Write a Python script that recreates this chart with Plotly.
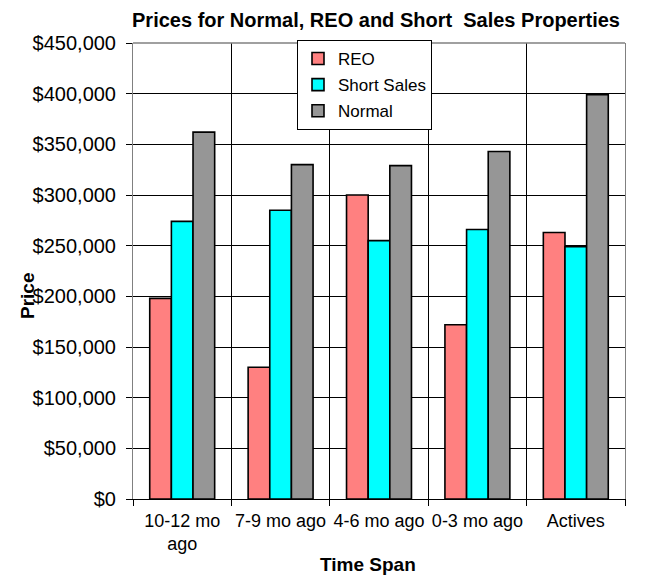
import plotly.graph_objects as go

categories = ["10-12 mo<br>ago", "7-9 mo ago", "4-6 mo ago", "0-3 mo ago", "Actives"]
reo = [198000, 130000, 300000, 172000, 263000]
short_sales = [274000, 285000, 255000, 266000, 249000]
normal = [362000, 330000, 329000, 343000, 399000]
y_ticks = [0, 50000, 100000, 150000, 200000, 250000, 300000, 350000, 400000, 450000]

FONT = "Liberation Sans, Arial, sans-serif"
OFF = 8  # page body margin offset
W, H = 647 - OFF, 577 - OFF
PL, PR, PT, PB = 133, 625, 43, 499  # plot area in page pixels
L, T = PL - OFF, PT - OFF
R, B = W - (PR - OFF), H - (PB - OFF)
PW, PH = PR - PL, PB - PT

def px_x(p):
    return (p - PL) / PW

def px_y(p):
    return (PB - p) / PH

fig = go.Figure()
series = [("REO", reo, "#FF8080"), ("Short Sales", short_sales, "#00FFFF"), ("Normal", normal, "#969696")]
for i, (name, vals, col) in enumerate(series):
    fig.add_trace(go.Bar(
        x=categories, y=vals, name=name, legendgroup=f"g{i}",
        marker=dict(color=col, line=dict(color="black", width=1.6)),
    ))

fig.update_layout(
    width=W, height=H,
    margin=dict(l=L, r=R, t=T, b=B, autoexpand=False),
    paper_bgcolor="white", plot_bgcolor="white",
    font=dict(family=FONT, size=19, color="black"),
    barmode="group", bargap=0.34, bargroupgap=0,
    title=dict(text="<b>Prices for Normal, REO and Short \u00a0Sales Properties</b>",
               x=(376 - OFF) / W, xanchor="center", y=1 - (20 - OFF) / H, yanchor="middle",
               font=dict(size=20, family=FONT)),
    legend=dict(x=px_x(297), y=px_y(40), xanchor="left", yanchor="top",
                bordercolor="black", borderwidth=1, bgcolor="white",
                font=dict(size=17, family=FONT), tracegroupgap=1,
                itemwidth=30),
    showlegend=True,
)
fig.update_xaxes(
    type="category", tickson="boundaries", showgrid=True, gridcolor="black", gridwidth=1,
    showline=True, linecolor="black", linewidth=1, tickangle=0,
    ticks="outside", ticklen=6, tickcolor="black", ticklabelstandoff=5,
    tickfont=dict(size=18, family=FONT),
)
fig.update_yaxes(
    range=[0, 450000], tickvals=y_ticks, tickformat="$,.0f",
    showgrid=True, gridcolor="black", gridwidth=1,
    showline=True, linecolor="#808080", linewidth=1, mirror=True,
    ticks="outside", ticklen=6, tickcolor="black", ticklabelstandoff=6,
    tickfont=dict(size=20, family=FONT), zeroline=False,
)
# top border of plot area
fig.add_shape(type="line", xref="paper", yref="paper", x0=0, x1=1, y0=1, y1=1,
              line=dict(color="#808080", width=1.5), layer="above")

fig.add_annotation(text="<b>Price</b>", xref="paper", yref="paper", x=px_x(27), y=px_y(296),
                   textangle=-90, showarrow=False, font=dict(size=19, family=FONT),
                   xanchor="center", yanchor="middle")
fig.add_annotation(text="<b>Time Span</b>", xref="paper", yref="paper", x=px_x(368), y=px_y(564),
                   showarrow=False, font=dict(size=19, family=FONT),
                   xanchor="center", yanchor="middle")

fig.write_html("out.html")
